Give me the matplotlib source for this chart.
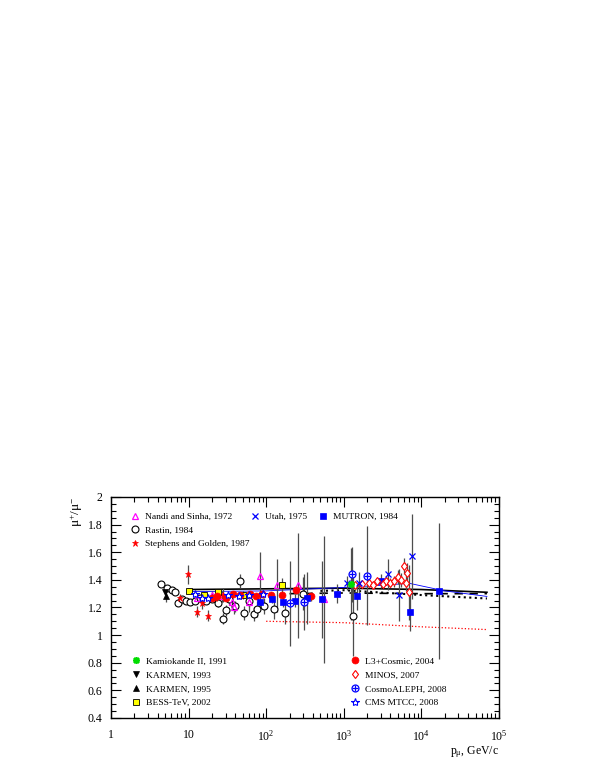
import matplotlib
matplotlib.use("Agg")
import matplotlib.pyplot as plt
from matplotlib.ticker import FixedLocator, FixedFormatter, MultipleLocator, LogLocator, NullFormatter
from matplotlib.lines import Line2D

plt.rcParams['font.family'] = ['Liberation Serif', 'DejaVu Serif']
plt.rcParams['mathtext.fontset'] = 'custom'
plt.rcParams['mathtext.rm'] = 'Liberation Serif'
plt.rcParams['mathtext.it'] = 'Liberation Serif:italic'
plt.rcParams['mathtext.bf'] = 'Liberation Serif:bold'

# ---- data (p in GeV/c, ratio, error) ----
nandi_x = [13, 20, 27, 36, 39, 60, 84, 139, 260, 550]
nandi_y = [1.27, 1.29, 1.28, 1.24, 1.20, 1.24, 1.43, 1.36, 1.36, 1.26]
nandi_e = [0.03, 0.03, 0.04, 0.05, 0.05, 0.07, 0.17, 0.19, 0.38, 0.46]

rastin_x = [4.4, 5.3, 6.1, 6.7, 7.4, 8.3, 9.3, 10.5, 12, 14, 17, 20, 24, 28, 30,
            33, 40, 46, 52, 60, 70, 77, 95, 125, 177, 300, 1300]
rastin_y = [1.37, 1.34, 1.33, 1.31, 1.23, 1.26, 1.25, 1.24, 1.25, 1.27, 1.25, 1.26, 1.23, 1.12, 1.18,
            1.26, 1.21, 1.39, 1.16, 1.25, 1.15, 1.19, 1.21, 1.19, 1.16, 1.30, 1.14]
rastin_e = [0.01, 0.01, 0.01, 0.01, 0.01, 0.01, 0.01, 0.01, 0.02, 0.02, 0.02, 0.02, 0.03, 0.04, 0.04,
            0.04, 0.04, 0.05, 0.05, 0.05, 0.05, 0.06, 0.06, 0.07, 0.08, 0.12, 0.29]

steph_x = [7.8, 9.9, 12.8, 15, 18, 22, 28]
steph_y = [1.27, 1.44, 1.17, 1.23, 1.14, 1.27, 1.29]
steph_e = [0.03, 0.07, 0.04, 0.04, 0.04, 0.04, 0.05]

utah_x = [1090, 1550, 3700, 5100, 7500]
utah_y = [1.38, 1.38, 1.44, 1.29, 1.57]
utah_e = [0.05, 0.08, 0.11, 0.19, 0.31]

mutron_x = [84, 120, 167, 238, 340, 530, 810, 1500, 3000, 7100, 17000]
mutron_y = [1.24, 1.26, 1.24, 1.25, 1.27, 1.26, 1.30, 1.28, 1.39, 1.17, 1.32]
mutron_e = [0.03, 0.03, 0.04, 0.05, 0.19, 0.28, 0.07, 0.10, 0.05, 0.14, 0.49]

kamio_x = [1230]
kamio_y = [1.37]
kamio_e = [0.26]

karmen93_x = [5.0]
karmen93_y = [1.31]
karmen93_e = [0.02]

karmen95_x = [5.1]
karmen95_y = [1.28]
karmen95_e = [0.04]

bess_x = [10.2, 15.8, 24, 50, 162]
bess_y = [1.32, 1.29, 1.31, 1.29, 1.36]
bess_e = [0.01, 0.02, 0.02, 0.03, 0.05]

l3_x = [20, 23.5, 30, 37, 46, 62, 75, 89, 117, 162, 245, 380]
l3_y = [1.27, 1.28, 1.27, 1.30, 1.29, 1.30, 1.28, 1.30, 1.29, 1.29, 1.33, 1.28]
l3_e = [0.01, 0.01, 0.01, 0.01, 0.01, 0.01, 0.01, 0.01, 0.02, 0.02, 0.02, 0.03]

minos_x = [1400, 1740, 2100, 2400, 2700, 3200, 3500, 4000, 4400, 5000, 5500, 5900, 6300, 6600, 6900]
minos_y = [1.36, 1.37, 1.38, 1.36, 1.39, 1.37, 1.39, 1.38, 1.39, 1.42, 1.40, 1.50, 1.38, 1.45, 1.31]
minos_e = [0.01, 0.01, 0.01, 0.02, 0.02, 0.02, 0.03, 0.03, 0.04, 0.05, 0.05, 0.06, 0.06, 0.07, 0.20]

aleph_x = [200, 310, 1260, 2000]
aleph_y = [1.23, 1.24, 1.44, 1.43]
aleph_e = [0.31, 0.20, 0.20, 0.36]

cms_x = [12, 15, 18, 32, 45, 60, 90]
cms_y = [1.30, 1.27, 1.27, 1.29, 1.28, 1.29, 1.30]
cms_e = [0.02, 0.02, 0.02, 0.02, 0.02, 0.02, 0.03]

# model curves
solid_x = [10, 100, 1000, 10000, 70000]
solid_y = [1.33, 1.335, 1.34, 1.33, 1.31]
dash_x = [200, 1000, 10000, 70000]
dash_y = [1.30, 1.305, 1.30, 1.30]
dot_x = [500, 1000, 10000, 70000]
dot_y = [1.32, 1.325, 1.29, 1.265]
blue_x = [11, 100, 1000, 3000, 7000, 20000, 70000]
blue_y = [1.315, 1.32, 1.345, 1.36, 1.375, 1.32, 1.28]
red_x = [100, 1000, 10000, 70000]
red_y = [1.10, 1.09, 1.06, 1.04]

xtick_vals = [1, 10, 100, 1000, 10000, 100000]
xtick_text = ['1', '10', r'$10^{2}$', r'$10^{3}$', r'$10^{4}$', r'$10^{5}$']
ytick_vals = [0.4, 0.6, 0.8, 1.0, 1.2, 1.4, 1.6, 1.8, 2.0]
ytick_text = ['0.4', '0.6', '0.8', '1', '1.2', '1.4', '1.6', '1.8', '2']

BLUE = '#0000ff'
RED = '#ff0000'
MAG = '#ff00ff'
GREEN = '#00dd00'

fig = plt.figure(figsize=(5.98, 7.74), dpi=100)
ax = fig.add_axes([0.1856, 0.0724, 0.6488, 0.2855])
ax.set_xscale('log')
ax.set_xlim(1, 1e5)
ax.set_ylim(0.4, 2.0)

ax.plot(solid_x, solid_y, '-', color='black', lw=1.2, zorder=2)
ax.plot(dash_x, dash_y, '--', color='black', lw=1.2, dashes=(5, 4), zorder=2)
ax.plot(dot_x, dot_y, ':', color='black', lw=1.5, zorder=2)
ax.plot(blue_x, blue_y, '-', color=BLUE, lw=0.6, zorder=2)
ax.plot(red_x, red_y, ':', color=RED, lw=0.9, zorder=2)


def draw(x, y, e, style):
    ax.errorbar(x, y, yerr=e, fmt='none', ecolor='0.3', elinewidth=0.9, capsize=0, zorder=3)
    ax.plot(x, y, linestyle='none', zorder=4, **style)
    return Line2D([], [], linestyle='none', **style)


s_nandi = dict(marker='^', ms=5, mfc='none', mec=MAG, mew=0.9)
s_rastin = dict(marker='o', ms=5, mfc='white', mec='black', mew=0.8)
s_steph = dict(marker='*', ms=5, mfc=RED, mec=RED, mew=0.5)
s_utah = dict(marker='x', ms=5, mfc='none', mec=BLUE, mew=0.9)
s_mutron = dict(marker='s', ms=4.5, mfc=BLUE, mec=BLUE, mew=0.5)
s_kamio = dict(marker=(8, 2, 0), ms=5, mfc=GREEN, mec=GREEN, mew=1.2)
s_k93 = dict(marker='v', ms=4.5, mfc='black', mec='black', mew=0.5)
s_k95 = dict(marker='^', ms=4.5, mfc='black', mec='black', mew=0.5)
s_bess = dict(marker='s', ms=5, mfc='#ffff00', mec='black', mew=0.6)
s_l3 = dict(marker='o', ms=5, mfc=RED, mec=RED, mew=0.5)
s_minos = dict(marker='d', ms=4.5, mfc='white', mec=RED, mew=0.8)
s_aleph = dict(marker='o', ms=5, mfc='white', mec=BLUE, mew=0.9)
s_aleph2 = dict(marker='+', ms=5, mfc='none', mec=BLUE, mew=0.9)
s_cms = dict(marker='*', ms=6, mfc='white', mec=BLUE, mew=0.8)

h_rastin = draw(rastin_x, rastin_y, rastin_e, s_rastin)
h_nandi = draw(nandi_x, nandi_y, nandi_e, s_nandi)
h_steph = draw(steph_x, steph_y, steph_e, s_steph)
h_k93 = draw(karmen93_x, karmen93_y, karmen93_e, s_k93)
h_k95 = draw(karmen95_x, karmen95_y, karmen95_e, s_k95)
h_bess = draw(bess_x, bess_y, bess_e, s_bess)
h_l3 = draw(l3_x, l3_y, l3_e, s_l3)
h_cms = draw(cms_x, cms_y, cms_e, s_cms)
h_mutron = draw(mutron_x, mutron_y, mutron_e, s_mutron)
h_minos = draw(minos_x, minos_y, minos_e, s_minos)
h_aleph = draw(aleph_x, aleph_y, aleph_e, s_aleph)
ax.plot(aleph_x, aleph_y, linestyle='none', zorder=5, **s_aleph2)
h_aleph2 = Line2D([], [], linestyle='none', **s_aleph2)
h_utah = draw(utah_x, utah_y, utah_e, s_utah)
h_kamio = draw(kamio_x, kamio_y, kamio_e, s_kamio)

# axes / ticks, ROOT like
ax.xaxis.set_major_locator(FixedLocator(xtick_vals))
ax.xaxis.set_major_formatter(FixedFormatter(xtick_text))
ax.xaxis.set_minor_locator(LogLocator(base=10, subs=range(2, 10), numticks=20))
ax.xaxis.set_minor_formatter(NullFormatter())
ax.yaxis.set_major_locator(FixedLocator(ytick_vals))
ax.yaxis.set_major_formatter(FixedFormatter(ytick_text))
ax.yaxis.set_minor_locator(MultipleLocator(0.05))
ax.tick_params(which='both', direction='in', top=True, right=True, labelsize=8.5, width=0.8)
ax.tick_params(which='major', length=7)
ax.tick_params(axis='x', which='major', pad=8)
ax.tick_params(axis='y', which='major', pad=6)
ax.tick_params(which='minor', length=3.5)
for sp in ax.spines.values():
    sp.set_linewidth(1.0)

ax.text(-0.088, 1.0, r'$\mathrm{\mu}^{+}/\mathrm{\mu}^{-}$', transform=ax.transAxes, rotation=90,
        ha='center', va='top', fontsize=9.5)
ax.text(1.0, -0.154, r'p$_{\mathrm{\mu}}$, GeV/c', transform=ax.transAxes,
        ha='right', va='center', fontsize=8.5)

leg_kw = dict(loc='upper left', frameon=False, fontsize=6.8, handlelength=1.0,
              handletextpad=0.6, labelspacing=0.55, borderpad=0, borderaxespad=0)

legA = ax.legend([h_nandi, h_rastin, h_steph],
                 ['Nandi and Sinha, 1972', 'Rastin, 1984', 'Stephens and Golden, 1987'],
                 bbox_to_anchor=(0.050, 0.931), **leg_kw)
ax.add_artist(legA)
legB = ax.legend([h_utah], ['Utah, 1975'], bbox_to_anchor=(0.359, 0.931), **leg_kw)
ax.add_artist(legB)
legC = ax.legend([h_mutron], ['MUTRON, 1984'], bbox_to_anchor=(0.534, 0.931), **leg_kw)
ax.add_artist(legC)
legD = ax.legend([h_kamio, h_k93, h_k95, h_bess],
                 ['Kamiokande II, 1991', 'KARMEN, 1993', 'KARMEN, 1995', 'BESS-TeV, 2002'],
                 bbox_to_anchor=(0.052, 0.275), **leg_kw)
ax.add_artist(legD)
legE = ax.legend([h_l3, h_minos, (h_aleph, h_aleph2), h_cms],
                 ['L3+Cosmic, 2004', 'MINOS, 2007', 'CosmoALEPH, 2008', 'CMS MTCC, 2008'],
                 bbox_to_anchor=(0.617, 0.275), **leg_kw)

fig.savefig('out.png', dpi=100)
